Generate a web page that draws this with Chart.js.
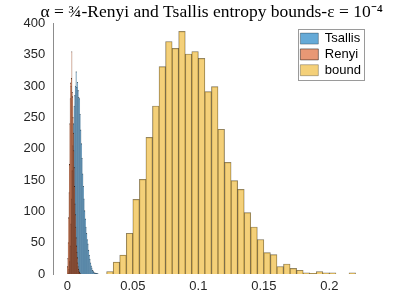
<!DOCTYPE html>
<html><head><meta charset="utf-8">
<script src="https://cdn.jsdelivr.net/npm/chart.js@4.4.1/dist/chart.umd.min.js"></script>
<style>html,body{margin:0;padding:0;background:#fff;} canvas{display:block;}</style>
</head><body>
<canvas id="c" width="409" height="307"></canvas>
<script>
const titleText = 'α = ¾-Renyi and Tsallis entropy bounds-ε = 10⁻⁴';
const seriesNames = ['Tsallis', 'Renyi', 'bound'];

const tsallisStart = 0.0005, tsallisWidth = 0.0005;
const tsallisCounts = [2,8,20,45,80,120,165,205,240,268,285,300,323,298,306,293,282,280,255,230,208,185,160,140,120,101,88,75,65,55,48,38,30,24,18,13,10,6,5,3,2,2,1,1,0,1];

const renyiStart = 0, renyiWidth = 0.0003;
const renyiCounts = [12,25,50,90,130,175,240,280,305,300,312,355,290,283,250,225,197,170,140,112,95,75,58,45,35,26,18,12,8,5,3,2,1];

const boundStart = 0.03, boundWidth = 0.005;
const boundCounts = [4,19,30,65,119,151,218,268,331,371,360,387,351,355,344,291,299,231,178,149,135,98,75,55,34,31,12,16,9,6,2,1,4,2,2,0,0,2];

const xTicks = [0, 0.05, 0.1, 0.15, 0.2];
const yTicks = [0, 50, 100, 150, 200, 250, 300, 350, 400];
const xMin = -0.0107, xMax = 0.231, yMin = 0, yMax = 400;

function toBins(start, width, counts) {
  return counts.map((c, i) => ({ x: start + (i + 0.5) * width, y: c }));
}
function hiddenX() {
  return { type: 'linear', display: false, min: xMin, max: xMax, offset: false,
    afterBuildTicks: s => { s.ticks = [{ value: xMin }, { value: xMax }]; } };
}

const tickFont = { family: 'Liberation Sans', size: 13 };

const boxPlacer = {
  id: 'boxPlacer',
  afterLayout(chart) {
    const ca = chart.chartArea;
    const t = chart.titleBlock;
    if (t) {
      const c = (ca.left + ca.right) / 2;
      t.left = c - 195; t.right = c + 195; t.width = 390;
    }
    const lg = chart.legend;
    if (!lg || !lg.columnSizes || !lg.columnSizes[0]) return;
    const pad = lg.options.labels.padding;
    const col = lg.columnSizes[0];
    const w = pad + col.width + 3;
    const h = pad + col.height + 1;
    lg.left = ca.right - 6 - w; lg.right = lg.left + w;
    lg.top = ca.top + 6; lg.bottom = lg.top + h;
    lg.width = w; lg.height = h;
  },
  afterDraw(chart) {
    const lg = chart.legend;
    if (!lg) return;
    const ctx = chart.ctx;
    ctx.save();
    ctx.strokeStyle = '#9a9a9a';
    ctx.lineWidth = 1;
    ctx.strokeRect(Math.round(lg.left) + 0.5, Math.round(lg.top) + 0.5, Math.round(lg.width), Math.round(lg.height));
    ctx.restore();
  }
};

new Chart(document.getElementById('c'), {
  type: 'bar',
  data: {
    datasets: [
      { label: seriesNames[0], data: toBins(tsallisStart, tsallisWidth, tsallisCounts), xAxisID: 'xT', yAxisID: 'y',
        backgroundColor: 'rgba(0,114,189,0.6)', borderColor: 'rgba(0,0,0,0.6)', borderWidth: 0.5, order: 2 },
      { label: seriesNames[1], data: toBins(renyiStart, renyiWidth, renyiCounts), xAxisID: 'xR', yAxisID: 'y',
        backgroundColor: 'rgba(217,83,25,0.6)', borderColor: 'rgba(0,0,0,0.9)', borderWidth: 0.5, order: 1 },
      { label: seriesNames[2], data: toBins(boundStart, boundWidth, boundCounts), xAxisID: 'xB', yAxisID: 'y',
        backgroundColor: 'rgba(237,177,32,0.6)', borderColor: 'rgba(0,0,0,0.55)', borderWidth: 0.5, order: 0 }
    ]
  },
  options: {
    responsive: false,
    animation: false,
    devicePixelRatio: 1,
    grouped: false,
    categoryPercentage: 1,
    barPercentage: 1,
    layout: { padding: { left: 15.6, right: 39, top: 0, bottom: 7.4 } },
    scales: {
      x: { type: 'linear', min: xMin, max: xMax, offset: false,
        afterBuildTicks: s => { s.ticks = xTicks.map(v => ({ value: v })); },
        ticks: { callback: v => String(v), color: '#262626', font: tickFont, padding: 5, maxRotation: 0, autoSkip: false },
        grid: { display: false, drawTicks: false }, border: { display: false } },
      xT: hiddenX(), xR: hiddenX(), xB: hiddenX(),
      y: { type: 'linear', min: yMin, max: yMax,
        afterBuildTicks: s => { s.ticks = yTicks.map(v => ({ value: v })); },
        ticks: { color: '#262626', font: tickFont, padding: 8, autoSkip: false },
        grid: { display: false, drawTicks: false }, border: { display: true, color: '#8c8c8c', width: 1 } }
    },
    plugins: {
      title: { display: true, fullSize: false, text: titleText, color: '#000', font: { family: 'Liberation Serif', size: 17.5, weight: 'normal' }, padding: { top: 2.3, bottom: 0 } },
      legend: { position: 'chartArea', align: 'start',
        labels: { boxWidth: 18, boxHeight: 11, padding: 2.8, color: '#000', font: { family: 'Liberation Sans', size: 13 },
          sort: (a, b) => a.datasetIndex - b.datasetIndex } },
      tooltip: { enabled: false }
    }
  },
  plugins: [boxPlacer]
});
</script>
</body></html>
